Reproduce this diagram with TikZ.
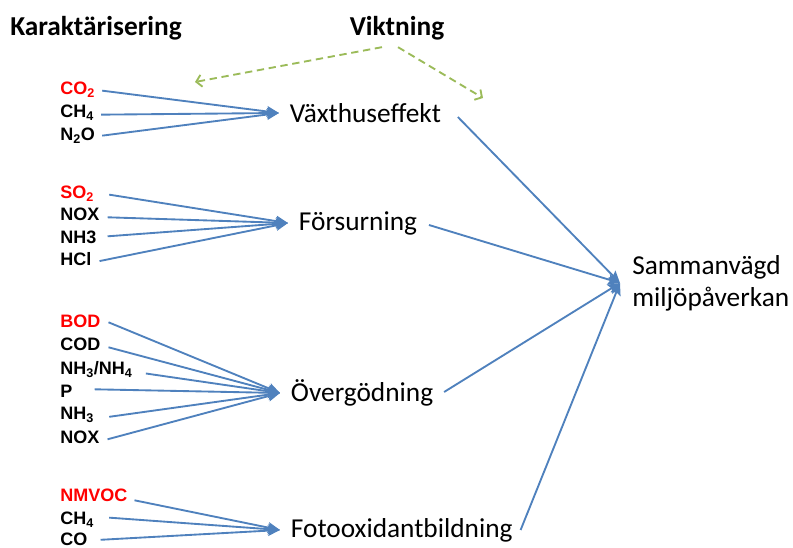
\documentclass[tikz,border=0pt]{standalone}
\usepackage{fontspec}
\setmainfont{Carlito}
\newfontfamily\substfont{Liberation Sans}
\usetikzlibrary{arrows.meta,calc}
\definecolor{arrblue}{HTML}{4F81BD}
\definecolor{arrgreen}{HTML}{9BBB59}
\definecolor{substred}{HTML}{FF0000}
\begin{document}
\begin{tikzpicture}[x=0.75pt,y=-0.75pt,
  headtxt/.style={font=\fontsize{20.5}{24}\selectfont\bfseries, inner sep=0pt},
  cat/.style={font=\fontsize{20.5}{24}\selectfont, inner xsep=8pt, inner ysep=0pt, anchor=west},
  sub/.style={font=\substfont\bfseries\fontsize{13.5}{15}\selectfont, inner sep=0pt, anchor=base west},
  subred/.style={sub, text=substred},
  arr/.style={draw=arrblue, line width=1.4pt, -{Stealth[length=9pt,width=8pt,inset=1.5pt]}},
  warr/.style={draw=arrgreen, line width=1.4pt, dash pattern=on 5.5pt off 3.5pt, -{Straight Barb[length=4pt,width=9pt]}}]
\useasboundingbox (0,0) rectangle (793,548);

% headings
\node[headtxt, anchor=west] (kar) at (10,28) {Karaktärisering};
\node[headtxt] (vikt) at (397,28) {Viktning};

% substances
\node[subred] (co2)   at (60,94.5)  {CO\textsubscript{2}};
\node[sub]    (ch4a)  at (60,117.5) {CH\textsubscript{4}};
\node[sub]    (n2o)   at (60,140.5) {N\textsubscript{2}O};

\node[subred] (so2)   at (60,198.5) {SO\textsubscript{2}};
\node[sub]    (nox1)  at (60,220.5) {NOX};
\node[sub]    (nh3a)  at (60,243.5) {NH3};
\node[sub]    (hcl)   at (60,265.5) {HCl};

\node[subred] (bod)   at (60,327.5) {BOD};
\node[sub]    (cod)   at (60,350.5) {COD};
\node[sub]    (nh34)  at (60,374.5) {NH\textsubscript{3}/NH\textsubscript{4}};
\node[sub]    (p)     at (60,397.5) {P};
\node[sub]    (nh3b)  at (60,419.5) {NH\textsubscript{3}};
\node[sub]    (nox2)  at (60,443.5) {NOX};

\node[subred] (nmvoc) at (60,501.5) {NMVOC};
\node[sub]    (ch4b)  at (60,524.5) {CH\textsubscript{4}};
\node[sub]    (co)    at (60,546) {CO};

% categories
\node[cat] (vaxt)  at (279,113) {Växthuseffekt};
\node[cat] (fors)  at (288,223) {Försurning};
\node[cat] (overg) at (280,393) {Övergödning};
\node[cat] (foto)  at (280,530) {Fotooxidantbildning};
\node[cat, inner xsep=9pt, align=left, font=\fontsize{20.5}{24}\selectfont] (samman) at (620,283) {Sammanvägd\\miljöpåverkan};

% weighting arrows
\coordinate (wl) at (195,82);
\coordinate (wr) at (483,98);
\draw[warr] ($(vikt.south)+(-15,7)$) -- (wl);
\draw[warr] ($(vikt.south)+(1,7)$) -- (wr);

% characterisation arrows
\draw[arr] ($(co2.east)+(7,1)$)  -- (vaxt.west);
\draw[arr] ($(ch4a.east)+(7,2)$) -- (vaxt.west);
\draw[arr] ($(n2o.east)+(7,0)$)  -- (vaxt.west);

\draw[arr] ($(so2.east)+(15,1)$)  -- (fors.west);
\draw[arr] ($(nox1.east)+(8,3)$)  -- (fors.west);
\draw[arr] ($(nh3a.east)+(11,-1)$) -- (fors.west);
\draw[arr] ($(hcl.east)+(8,2)$)   -- (fors.west);

\draw[arr] ($(bod.east)+(8,1)$)   -- (overg.west);
\draw[arr] ($(cod.east)+(8,3)$)   -- (overg.west);
\draw[arr] ($(nh34.east)+(13,4)$) -- (overg.west);
\draw[arr] ($(p.east)+(22,-2)$)   -- (overg.west);
\draw[arr] ($(nh3b.east)+(15,2)$) -- (overg.west);
\draw[arr] ($(nox2.east)+(8,2)$)  -- (overg.west);

\draw[arr] ($(nmvoc.east)+(7,5)$) -- (foto.west);
\draw[arr] ($(ch4b.east)+(15,-2)$) -- (foto.west);
\draw[arr] ($(co.east)+(13,0)$)   -- (foto.west);

% aggregation arrows
\draw[arr] ($(vaxt.east)+(6,4)$)   -- (samman.west);
\draw[arr] ($(fors.east)+(1,2)$)   -- (samman.west);
\draw[arr] ($(overg.east)+(0,-1)$) -- (samman.west);
\draw[arr] ($(foto.east)+(-3,0)$)  -- (samman.west);
\end{tikzpicture}
\end{document}
